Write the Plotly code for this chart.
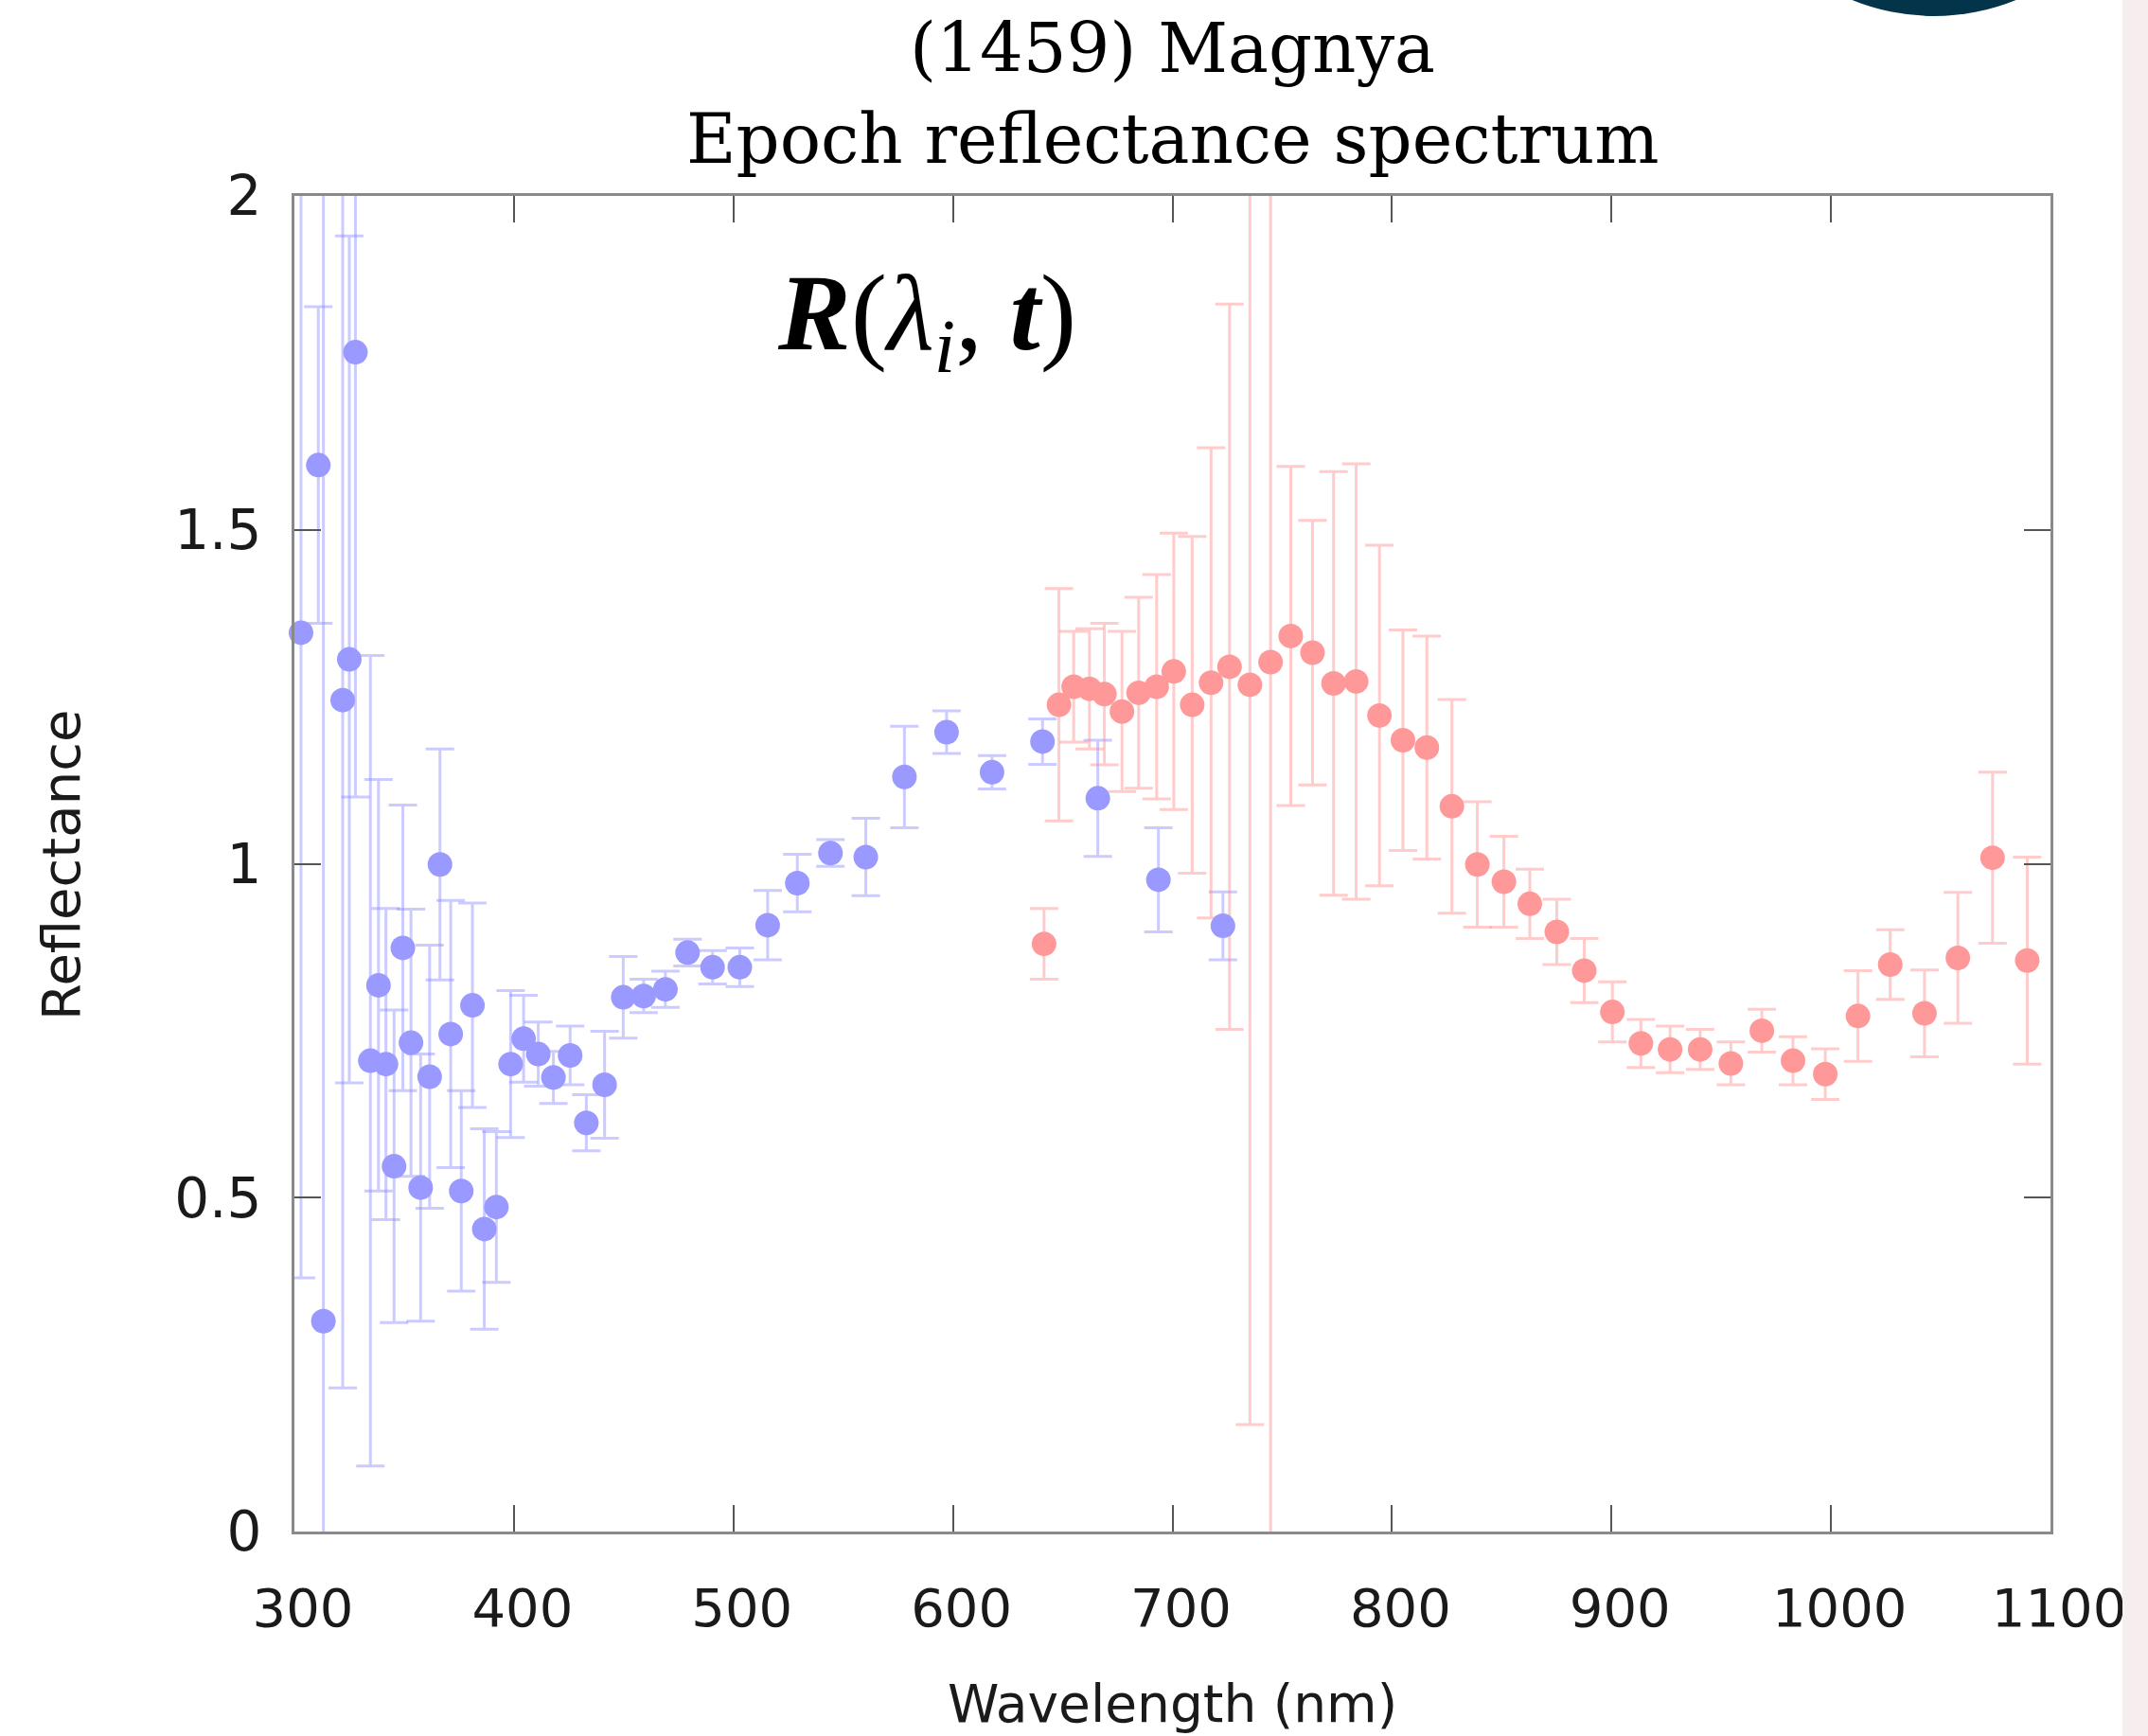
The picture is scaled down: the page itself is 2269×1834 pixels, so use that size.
import plotly.graph_objects as go

# Blue (short-wavelength) epoch reflectance samples
blue_wl = [303.0, 310.9, 313.2, 322.0, 325.0, 327.8, 334.6, 338.3, 341.7, 345.4,
           349.4, 353.1, 357.5, 361.6, 366.3, 371.2, 376.0, 381.1, 386.5, 392.0,
           398.5, 404.4, 411.1, 418.0, 425.6, 433.0, 441.3, 449.8, 459.1, 469.0,
           479.1, 490.5, 502.9, 515.6, 529.1, 544.2, 560.3, 577.9, 597.1, 617.8,
           640.8, 666.0, 693.6, 723.0]
blue_refl = [1.346, 1.597, 0.315, 1.245, 1.306, 1.766, 0.705, 0.818, 0.700, 0.547,
             0.874, 0.732, 0.515, 0.681, 0.999, 0.745, 0.510, 0.788, 0.453, 0.486,
             0.700, 0.738, 0.715, 0.680, 0.713, 0.612, 0.669, 0.800, 0.802, 0.812,
             0.867, 0.845, 0.845, 0.908, 0.971, 1.016, 1.010, 1.130, 1.197, 1.137,
             1.183, 1.098, 0.976, 0.907]
blue_err = [0.966, 0.237, 1.75, 1.03, 0.634, 0.666, 0.607, 0.308, 0.233, 0.234,
            0.214, 0.200, 0.200, 0.197, 0.173, 0.200, 0.150, 0.153, 0.150, 0.113,
            0.110, 0.065, 0.048, 0.039, 0.044, 0.042, 0.080, 0.061, 0.025, 0.027,
            0.020, 0.025, 0.029, 0.052, 0.043, 0.020, 0.058, 0.076, 0.032, 0.025,
            0.034, 0.087, 0.078, 0.051]

# Red (long-wavelength) epoch reflectance samples
red_wl = [641.5, 648.3, 655.0, 662.2, 669.0, 677.0, 684.6, 692.8, 700.6, 709.0,
          717.6, 726.0, 735.3, 744.7, 753.9, 763.8, 773.4, 783.7, 794.3, 805.0,
          815.9, 827.3, 838.9, 851.0, 862.8, 875.1, 887.6, 900.4, 913.4, 926.7,
          940.4, 954.4, 968.5, 982.7, 997.4, 1012.3, 1027.0, 1042.6, 1057.8, 1073.6,
          1089.4]
red_refl = [0.880, 1.238, 1.265, 1.262, 1.254, 1.228, 1.256, 1.265, 1.288, 1.238,
            1.271, 1.295, 1.268, 1.302, 1.341, 1.316, 1.270, 1.273, 1.222, 1.185,
            1.174, 1.086, 0.999, 0.973, 0.940, 0.898, 0.840, 0.778, 0.731, 0.722,
            0.722, 0.701, 0.750, 0.705, 0.685, 0.772, 0.849, 0.776, 0.859, 1.009,
            0.855]
red_err = [0.053, 0.174, 0.083, 0.090, 0.106, 0.120, 0.143, 0.168, 0.207, 0.252,
           0.352, 0.543, 1.108, 1.450, 0.254, 0.198, 0.317, 0.326, 0.255, 0.165,
           0.167, 0.160, 0.094, 0.068, 0.052, 0.049, 0.048, 0.045, 0.036, 0.035,
           0.030, 0.032, 0.032, 0.036, 0.038, 0.068, 0.052, 0.065, 0.098, 0.128,
           0.155]

x_ticks = [300, 400, 500, 600, 700, 800, 900, 1000, 1100]
y_ticks = [0, 0.5, 1, 1.5, 2]
y_tick_text = ["0", "0.5", "1", "1.5", "2"]

BLUE = "#9999ff"
RED = "#ff9999"
BLUE_BAR = "rgba(140,140,255,0.45)"
RED_BAR = "rgba(255,140,140,0.45)"

W, H = 2269, 1834
L, R, T, B = 311, 103, 207, 216
PW, PH = W - L - R, H - T - B


def px_x(p):
    return (p - L) / PW


def px_y(p):
    return (H - B - p) / PH


fig = go.Figure()

# error bars (clipped to the plotting frame)
for wl, refl, err, col in [(blue_wl, blue_refl, blue_err, BLUE_BAR),
                           (red_wl, red_refl, red_err, RED_BAR)]:
    fig.add_trace(go.Scatter(
        x=wl, y=refl, mode="markers",
        marker=dict(size=1, color="rgba(0,0,0,0)"),
        error_y=dict(type="data", array=err, visible=True, color=col,
                     thickness=3, width=15),
        cliponaxis=True, showlegend=False, hoverinfo="skip"))

# filled circle markers
for wl, refl, col in [(blue_wl, blue_refl, BLUE), (red_wl, red_refl, RED)]:
    fig.add_trace(go.Scatter(
        x=wl, y=refl, mode="markers",
        marker=dict(size=26, color=col, line=dict(width=0)),
        cliponaxis=False, showlegend=False))

fig.update_xaxes(
    range=[300, 1100], tickvals=x_ticks, ticktext=[str(v) for v in x_ticks],
    ticks="inside", ticklen=28, tickwidth=2, tickcolor="#555555",
    showline=True, linecolor="#8a8a8a", linewidth=3, mirror="ticks",
    showgrid=False, zeroline=False,
    tickfont=dict(family="DejaVu Sans", size=56, color="#1a1a1a"),
    ticklabelstandoff=30, ticklabelshift=9)
fig.update_yaxes(
    range=[0, 2], tickvals=y_ticks, ticktext=y_tick_text,
    ticks="inside", ticklen=28, tickwidth=2, tickcolor="#555555",
    showline=True, linecolor="#8a8a8a", linewidth=3, mirror="ticks",
    showgrid=False, zeroline=False,
    tickfont=dict(family="DejaVu Sans", size=58, color="#1a1a1a"),
    ticklabelstandoff=20)

serif = "DejaVu Serif"
annotations = [
    dict(text="(1459) Magnya", x=0.5, y=px_y(51), font=dict(family=serif, size=72, color="black")),
    dict(text="Epoch reflectance spectrum", x=0.5, y=px_y(147), font=dict(family=serif, size=72, color="black")),
    dict(text="<i><b>R</b></i>(<i>λ</i><sub><i>i</i></sub>, <i><b>t</b></i>)",
         x=px_x(979), y=px_y(338), font=dict(family="Liberation Serif", size=115, color="black")),
    dict(text="Reflectance", x=px_x(64), y=px_y(914), textangle=-90,
         font=dict(family="DejaVu Sans", size=56, color="#1a1a1a")),
    dict(text="Wavelength (nm)", x=0.5, y=px_y(1800),
         font=dict(family="DejaVu Sans", size=55, color="#1a1a1a")),
]
for a in annotations:
    a.update(xref="paper", yref="paper", showarrow=False,
             xanchor="center", yanchor="middle")
fig.update_layout(annotations=annotations)

# slide decorations: dark disc at the top edge and pale strip at the right edge
fig.add_shape(type="circle", xref="paper", yref="paper",
              x0=px_x(1814), x1=px_x(2272), y0=px_y(17), y1=px_y(-441),
              fillcolor="#04344a", line=dict(width=0), layer="above")
fig.add_shape(type="rect", xref="paper", yref="paper",
              x0=px_x(2242), x1=px_x(2280), y0=px_y(1850), y1=px_y(-10),
              fillcolor="#f6eeee", line=dict(width=0), layer="above")

fig.update_layout(
    width=W, height=H, autosize=False,
    margin=dict(l=L, r=R, t=T, b=B, pad=0),
    plot_bgcolor="white", paper_bgcolor="white",
    showlegend=False)

fig.write_html("out.html")
